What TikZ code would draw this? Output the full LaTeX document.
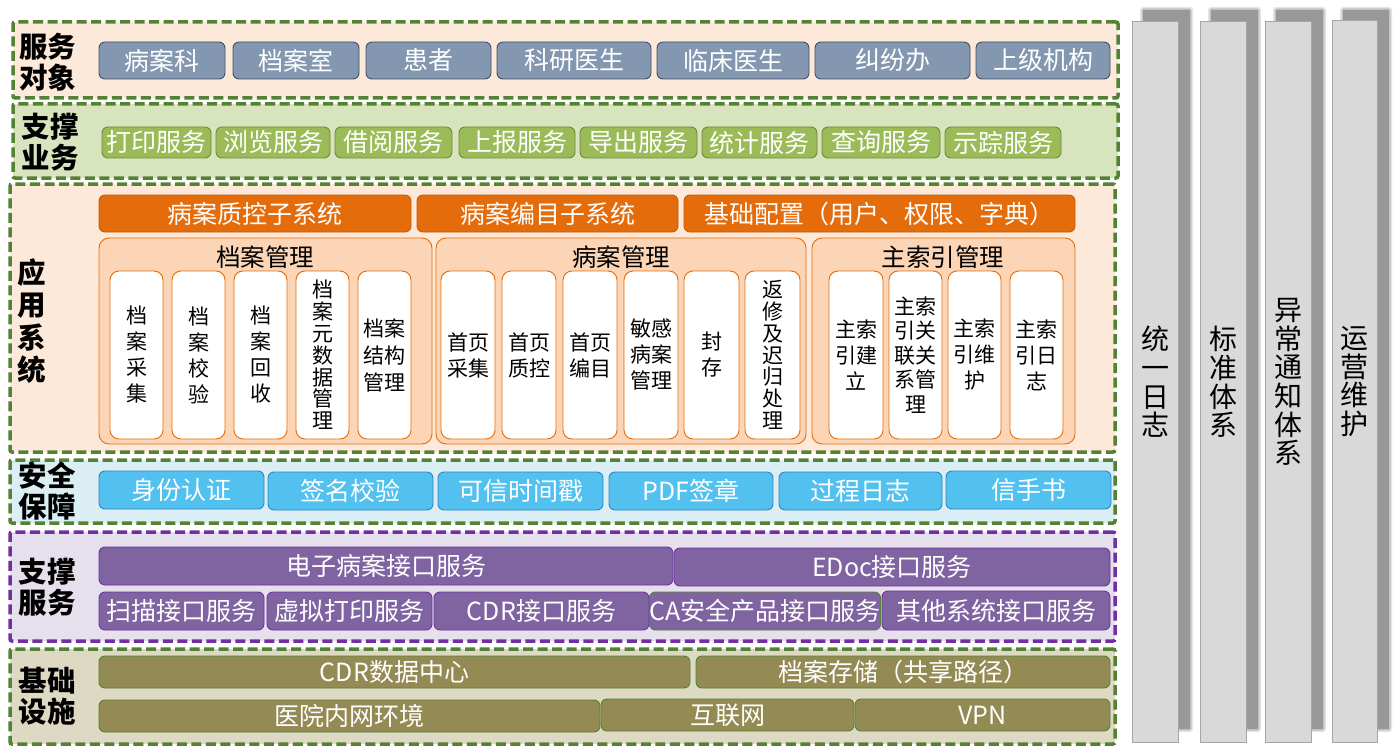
\documentclass[tikz,border=0pt]{standalone}
\usepackage{fontspec}
\setmainfont{Noto Sans CJK SC}
\definecolor{peach}{HTML}{FDE9D9}
\definecolor{lgreen}{HTML}{D7E4BD}
\definecolor{fgreen}{HTML}{548235}
\definecolor{slate}{HTML}{8497B0}
\definecolor{slateb}{HTML}{404F66}
\definecolor{chipg}{HTML}{9BBB59}
\definecolor{chipgb}{HTML}{6E8A3A}
\definecolor{orng}{HTML}{E46C0A}
\definecolor{grpfill}{HTML}{FBD5B5}
\definecolor{lblue}{HTML}{DBEEF4}
\definecolor{chipb}{HTML}{52C1EF}
\definecolor{chipbb}{HTML}{2F85C5}
\definecolor{purp}{HTML}{7030A0}
\definecolor{lpurp}{HTML}{E5E0EC}
\definecolor{chipp}{HTML}{8064A2}
\definecolor{lolive}{HTML}{DDD9C3}
\definecolor{olive}{HTML}{948A54}
\definecolor{pil}{HTML}{D9D9D9}
\definecolor{pilb}{HTML}{A6A6A6}
\definecolor{pils}{HTML}{989898}
\newcommand\bx[7]{\node[#1, minimum width=#5pt-#3pt, minimum height=#6pt-#4pt] (#2) at ({(#3+#5)/2},{(#4+#6)/2}) {#7};}
\tikzset{
  frame/.style={draw=fgreen, line width=3.5pt, dash pattern=on 10pt off 4.5pt, rounded corners=2pt, inner sep=0pt},
  chip/.style={rounded corners=6pt, draw, line width=0.9pt, text=white, inner sep=0pt,
    font=\fontsize{25}{28}\selectfont},
  svc/.style={chip, fill=slate, draw=slateb},
  biz/.style={chip, fill=chipg, draw=chipgb},
  sub/.style={chip, fill=orng, draw=orng!85!black},
  grp/.style={rounded corners=10pt, draw=orng, line width=0.9pt, fill=grpfill, inner sep=0pt},
  grptitle/.style={font=\fontsize{24.5}{28}\selectfont, inner sep=0pt},
  leaf/.style={rounded corners=9pt, draw=orng, line width=0.9pt, fill=white, inner sep=0pt,
    align=center, font=\fontsize{21}{26}\selectfont},
  tightleaf/.style={leaf, font=\fontsize{21}{21.8}\selectfont},
  sec/.style={chip, fill=chipb, draw=chipbb},
  itf/.style={chip, fill=chipp, draw=purp},
  inf/.style={chip, fill=olive, draw=fgreen},
  ttl/.style={font=\fontsize{28.5}{31}\selectfont\bfseries, align=center, inner sep=0pt},
  pillar/.style={fill=pil, draw=pilb, line width=1pt, inner sep=0pt, align=center,
    font=\fontsize{28}{28.7}\selectfont},
}
\begin{document}
\begin{tikzpicture}[x=1pt,y=-1pt]
\useasboundingbox (0,0) rectangle (1400,749);
\fill[white] (0,0) rectangle (1400,749);
% pillars with soft shadows
\foreach \a/\b in {1132/1178,1200/1246,1265/1311,1332/1377}{
  \fill[pils, opacity=0.25, rounded corners=3pt] (\a+8,7) rectangle (\b+15,732);
  \fill[pils, opacity=0.45, rounded corners=2pt] (\a+9.5,8.5) rectangle (\b+13.5,730.5);
  \fill[pils] (\a+11,10) rectangle (\b+12,729);
}
\bx{pillar}{p1}{1132}{22}{1178}{742}{统\\一\\日\\志}
\bx{pillar}{p2}{1200}{22}{1246}{742}{标\\准\\体\\系}
\bx{pillar}{p3}{1265}{22}{1311}{742}{异\\常\\通\\知\\体\\系}
\bx{pillar}{p4}{1332}{21}{1377}{742}{运\\营\\维\\护}
% frames
\bx{frame, fill=peach}{f1}{13}{22}{1118}{98}{}
\bx{frame, fill=lgreen}{f2}{13}{104}{1118}{178}{}
\bx{frame, fill=peach}{f3}{10}{184}{1115}{452}{}
\bx{frame, fill=lblue}{f4}{10}{460}{1115}{523}{}
\bx{frame, fill=lpurp, draw=purp}{f5}{10}{532}{1115}{641}{}
\bx{frame, fill=lolive}{f6}{10}{649}{1115}{744}{}
% layer titles
\node[ttl] (t1) at (48,62) {服务\\对象};
\node[ttl] (t2) at (50,142) {支撑\\业务};
\node[ttl, font=\fontsize{28.5}{32.5}\selectfont\bfseries] (t3) at (32,321) {应\\用\\系\\统};
\node[ttl] (t4) at (47,491) {安全\\保障};
\node[ttl] (t5) at (47,587) {支撑\\服务};
\node[ttl] (t6) at (47,696) {基础\\设施};
% row 1
\bx{svc}{s1}{99}{42}{225}{79}{病案科}
\bx{svc}{s2}{233}{42}{359}{79}{档案室}
\bx{svc}{s3}{366}{42}{491}{79}{患者}
\bx{svc}{s4}{497}{42}{651}{79}{科研医生}
\bx{svc}{s5}{657}{42}{809}{79}{临床医生}
\bx{svc}{s6}{815}{42}{970}{79}{纠纷办}
\bx{svc}{s7}{976}{42}{1110}{79}{上级机构}
% row 2
\bx{biz}{b1}{102}{127}{211}{158}{打印服务}
\bx{biz}{b2}{216}{127}{330}{158}{浏览服务}
\bx{biz}{b3}{335}{127}{452}{158}{借阅服务}
\bx{biz}{b4}{459}{127}{575}{158}{上报服务}
\bx{biz}{b5}{580}{127}{697}{158}{导出服务}
\bx{biz}{b6}{702}{127}{817}{158}{统计服务}
\bx{biz}{b7}{822}{127}{940}{158}{查询服务}
\bx{biz}{b8}{945}{127}{1061}{158}{示踪服务}
% row 3
\bx{sub}{a1}{99}{195}{411}{232}{病案质控子系统}
\bx{sub}{a2}{417}{195}{678}{232}{病案编目子系统}
\bx{sub}{a3}{684}{195}{1075}{232}{基础配置（用户、权限、字典）}
\bx{grp}{g1}{99}{238}{432}{444}{}
\bx{grp}{g2}{436}{238}{806}{444}{}
\bx{grp}{g3}{812}{238}{1075}{444}{}
\node[grptitle] (gt1) at (265,257) {档案管理};
\node[grptitle] (gt2) at (621,257) {病案管理};
\node[grptitle] (gt3) at (943,257) {主索引管理};
\bx{leaf}{l1}{110}{271}{163}{439}{档\\案\\采\\集}
\bx{leaf}{l2}{172}{271}{225}{439}{档\\案\\校\\验}
\bx{leaf}{l3}{234}{271}{287}{439}{档\\案\\回\\收}
\bx{tightleaf}{l4}{296}{271}{349}{439}{档\\案\\元\\数\\据\\管\\理}
\bx{leaf, font=\fontsize{21}{27}\selectfont}{l5}{358}{271}{411}{439}{档案\\结构\\管理}
\bx{leaf}{l6}{441}{271}{495}{439}{首页\\采集}
\bx{leaf}{l7}{502}{271}{556}{439}{首页\\质控}
\bx{leaf}{l8}{563}{271}{617}{439}{首页\\编目}
\bx{leaf}{l9}{624}{271}{678}{439}{敏感\\病案\\管理}
\bx{leaf}{l10}{684}{271}{739}{439}{封\\存}
\bx{tightleaf}{l11}{745}{271}{800}{439}{返\\修\\及\\迟\\归\\处\\理}
\bx{leaf}{l12}{829}{271}{883}{439}{主索\\引建\\立}
\bx{leaf, font=\fontsize{21}{24.5}\selectfont}{l13}{889}{271}{942}{439}{主索\\引关\\联关\\系管\\理}
\bx{leaf}{l14}{948}{271}{1001}{439}{主索\\引维\\护}
\bx{leaf}{l15}{1010}{271}{1063}{439}{主索\\引日\\志}
% row 4
\bx{sec}{c1}{99}{471}{264}{509}{身份认证}
\bx{sec}{c2}{268}{472}{433}{510}{签名校验}
\bx{sec}{c3}{438}{472}{603}{510}{可信时间戳}
\bx{sec}{c4}{609}{472}{773}{510}{PDF签章}
\bx{sec}{c5}{779}{472}{942}{510}{过程日志}
\bx{sec}{c6}{946}{471}{1111}{509}{信手书}
% row 5
\bx{itf}{i1}{99}{547}{673}{585}{电子病案接口服务}
\bx{itf}{i2}{674}{548}{1110}{586}{EDoc接口服务}
\bx{itf}{i3}{99}{592}{264}{630}{扫描接口服务}
\bx{itf}{i4}{267}{592}{432}{630}{虚拟打印服务}
\bx{itf}{i5}{434}{592}{649}{630}{CDR接口服务}
\bx{itf, draw=fgreen}{i6}{650}{592}{880}{630}{CA安全产品接口服务}
\bx{itf}{i7}{882}{591}{1110}{630}{其他系统接口服务}
% row 6
\bx{inf}{n1}{99}{656}{690}{688}{CDR数据中心}
\bx{inf}{n2}{696}{656}{1110}{688}{档案存储（共享路径）}
\bx{inf}{n3}{99}{700}{600}{732}{医院内网环境}
\bx{inf}{n4}{601}{699}{854}{731}{互联网}
\bx{inf}{n5}{855}{699}{1110}{731}{VPN}
\end{tikzpicture}
\end{document}
